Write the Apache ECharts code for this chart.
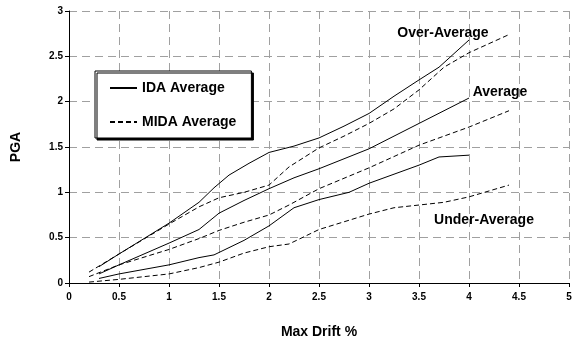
<!DOCTYPE html>
<html>
<head>
<meta charset="utf-8">
<script src="https://cdn.jsdelivr.net/npm/echarts@6/dist/echarts.min.js"></script>
<style>
  html, body { margin: 0; padding: 0; background: #fff; }
  #chart { width: 579px; height: 345px; }
</style>
</head>
<body>
<div id="chart"></div>
<script>
// Max drift (%) vs PGA for IDA and MIDA averages, three performance bands
const xTicks = { min: 0, max: 5, step: 0.5 };
const yTicks = { min: 0, max: 3, step: 0.5 };

// Over-Average band
const overIdaDrift = [0.3, 0.5, 1.0, 1.3, 1.45, 1.6, 1.8, 2.0, 2.25, 2.5, 2.75, 3.0, 3.25, 3.5, 3.7, 4.0];
const overIdaPga   = [0.18, 0.32, 0.66, 0.89, 1.05, 1.19, 1.32, 1.44, 1.51, 1.60, 1.73, 1.87, 2.06, 2.24, 2.38, 2.68];
const overMidaDrift = [0.2, 0.5, 1.0, 1.3, 1.5, 1.75, 2.0, 2.2, 2.5, 2.75, 3.0, 3.25, 3.5, 3.75, 4.0, 4.4];
const overMidaPga   = [0.12, 0.32, 0.65, 0.84, 0.94, 1.0, 1.08, 1.28, 1.49, 1.62, 1.76, 1.92, 2.13, 2.38, 2.54, 2.74];

// Average band
const avgIdaDrift = [0.3, 0.5, 1.0, 1.3, 1.5, 1.75, 2.0, 2.25, 2.5, 3.0, 3.5, 4.0];
const avgIdaPga   = [0.1, 0.2, 0.44, 0.59, 0.77, 0.91, 1.04, 1.16, 1.26, 1.48, 1.76, 2.04];
const avgMidaDrift = [0.2, 0.5, 1.0, 1.3, 1.5, 1.75, 2.0, 2.2, 2.5, 3.0, 3.5, 4.0, 4.4];
const avgMidaPga   = [0.07, 0.2, 0.37, 0.49, 0.58, 0.67, 0.75, 0.86, 1.04, 1.27, 1.52, 1.72, 1.90];

// Under-Average band
const underIdaDrift = [0.3, 0.5, 1.0, 1.3, 1.45, 1.75, 2.0, 2.25, 2.5, 2.8, 3.0, 3.5, 3.7, 4.0];
const underIdaPga   = [0.05, 0.1, 0.2, 0.28, 0.31, 0.47, 0.63, 0.83, 0.92, 1.0, 1.1, 1.3, 1.39, 1.41];
const underMidaDrift = [0.2, 0.5, 1.0, 1.3, 1.5, 1.75, 2.0, 2.2, 2.5, 3.0, 3.25, 3.5, 3.75, 4.0, 4.4];
const underMidaPga   = [0.01, 0.04, 0.1, 0.17, 0.23, 0.33, 0.4, 0.43, 0.59, 0.76, 0.83, 0.86, 0.89, 0.95, 1.08];

const legendNames = ['IDA Average', 'MIDA Average'];

// Band captions and the data position each one is centred on
const bandLabels = ['Over-Average', 'Average', 'Under-Average'];
const bandLabelAt = [[3.74, 2.76], [4.31, 2.1], [4.15, 0.69]];

const FONT = 'Liberation Sans, Arial, sans-serif';

function pairs(xs, ys) { return xs.map((x, i) => [x, ys[i]]); }

function curve(name, xs, ys, dashed) {
  return {
    type: 'line',
    name: name,
    data: pairs(xs, ys),
    symbol: 'none',
    smooth: false,
    silent: true,
    animation: false,
    itemStyle: { color: '#000' },
    lineStyle: { color: '#000', width: 1, type: dashed ? [5, 3] : 'solid' }
  };
}

const chart = echarts.init(document.getElementById('chart'), null, { renderer: 'canvas' });

const gridLine = { show: true, lineStyle: { color: '#a0a0a0', width: 1, type: [8, 5] } };

chart.setOption({
  animation: false,
  backgroundColor: '#fff',
  grid: { left: 69, right: 10, top: 11, bottom: 62, containLabel: false },
  legend: {
    data: legendNames,
    orient: 'vertical',
    left: 95,
    top: 71,
    padding: [10, 15, 9, 14],
    itemGap: 20,
    itemWidth: 27,
    itemHeight: 14,
    backgroundColor: '#fff',
    borderColor: '#000',
    borderWidth: 1,
    borderRadius: 0,
    shadowColor: '#000',
    shadowBlur: 0,
    shadowOffsetX: 2,
    shadowOffsetY: 2,
    selectedMode: false,
    itemStyle: { opacity: 0 },
    textStyle: { fontFamily: FONT, fontWeight: 'bold', fontSize: 14, color: '#000' }
  },
  xAxis: {
    type: 'value',
    min: xTicks.min, max: xTicks.max, interval: xTicks.step,
    name: 'Max Drift %',
    nameLocation: 'middle',
    nameGap: 42,
    nameTextStyle: { fontFamily: FONT, fontWeight: 'bold', fontSize: 14, color: '#000' },
    axisLine: { show: true, onZero: false, lineStyle: { color: '#000', width: 1 } },
    axisTick: { show: true, inside: false, length: 4, lineStyle: { color: '#000' } },
    axisLabel: { margin: 9, fontFamily: FONT, fontWeight: 'bold', fontSize: 10, color: '#000' },
    splitLine: gridLine
  },
  yAxis: {
    type: 'value',
    min: yTicks.min, max: yTicks.max, interval: yTicks.step,
    name: 'PGA',
    nameLocation: 'middle',
    nameGap: 46,
    nameRotate: 90,
    nameTextStyle: { fontFamily: FONT, fontWeight: 'bold', fontSize: 14, color: '#000' },
    axisLine: { show: true, onZero: false, lineStyle: { color: '#000', width: 1 } },
    axisTick: { show: true, inside: false, length: 4, lineStyle: { color: '#000' } },
    axisLabel: { margin: 6, fontFamily: FONT, fontWeight: 'bold', fontSize: 10, color: '#000' },
    splitLine: gridLine
  },
  series: [
    curve('IDA Average', overIdaDrift, overIdaPga, false),
    curve('MIDA Average', overMidaDrift, overMidaPga, true),
    curve('IDA Average', avgIdaDrift, avgIdaPga, false),
    curve('MIDA Average', avgMidaDrift, avgMidaPga, true),
    curve('IDA Average', underIdaDrift, underIdaPga, false),
    curve('MIDA Average', underMidaDrift, underMidaPga, true)
  ]
});

// Band captions placed at data coordinates
chart.setOption({
  graphic: bandLabels.map((txt, i) => {
    const p = chart.convertToPixel({ gridIndex: 0 }, bandLabelAt[i]);
    return {
      type: 'text',
      x: p[0], y: p[1],
      silent: true,
      style: {
        text: txt,
        fill: '#000',
        font: 'bold 14px ' + FONT,
        align: 'center',
        verticalAlign: 'middle'
      }
    };
  })
});
</script>
</body>
</html>
